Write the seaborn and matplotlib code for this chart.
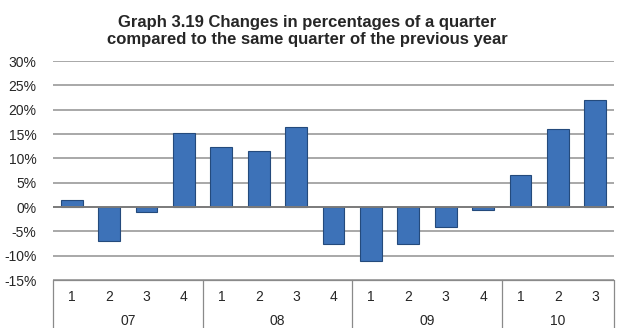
import matplotlib
matplotlib.use("Agg")
import matplotlib.pyplot as plt
import seaborn as sns
import pandas as pd
import numpy as np

years = ["07", "08", "09", "10"]
quarters = ["1", "2", "3", "4", "1", "2", "3", "4", "1", "2", "3", "4", "1", "2", "3"]
year_of_bar = ["07"] * 4 + ["08"] * 4 + ["09"] * 4 + ["10"] * 3
values = [1.5, -7.0, -1.1, 15.3, 12.4, 11.5, 16.5, -7.5, -11.0, -7.5, -4.1, -0.7, 6.5, 16.0, 22.0]
yticks = [-15, -10, -5, 0, 5, 10, 15, 20, 25, 30]

sns.set_theme(style="white")
plt.rcParams['font.family'] = ['Liberation Sans', 'DejaVu Sans']

df = pd.DataFrame({"pos": [str(i) for i in range(len(values))], "value": values})

fig = plt.figure(figsize=(6.24, 3.28), dpi=100)
ax = fig.add_axes([0.085, 0.146, 0.899, 0.668])

for t in yticks:
    if t == 0:
        continue
    ax.axhline(t, color="#9a9a9a", lw=1.2, zorder=0)

sns.barplot(data=df, x="pos", y="value", ax=ax, color="#3d72b8", width=0.58,
            edgecolor="#244a7c", linewidth=0.8, saturation=1, zorder=2)
ax.axhline(0, color="#7a7a7a", lw=1.4, zorder=3)

ax.set_ylim(-15, 30)
ax.set_xlim(-0.5, len(values) - 0.5)
ax.set_yticks(yticks)
ax.set_yticklabels([f"{t}%" for t in yticks], fontsize=10)
ax.tick_params(axis="y", length=0, pad=12)
ax.set_xticks([])
ax.set_xlabel("")
ax.set_ylabel("")
for s in ["left", "right", "top", "bottom"]:
    ax.spines[s].set_visible(False)

# category box
trans = ax.get_xaxis_transform()
box_bottom = -0.22
line_kw = dict(color="#8a8a8a", lw=0.9, clip_on=False, transform=trans)
ax.plot([-0.5, len(values) - 0.5], [0, 0], **line_kw)
for i, q in enumerate(quarters):
    ax.text(i, -0.075, q, ha="center", va="center", fontsize=10, transform=trans)
start = 0
bounds = [-0.5]
for y in years:
    n = year_of_bar.count(y)
    ax.text(start + (n - 1) / 2, -0.185, y, ha="center", va="center", fontsize=10, transform=trans)
    start += n
    bounds.append(start - 0.5)
for b in bounds:
    ax.plot([b, b], [0, box_bottom], **line_kw)

fig.text(0.492, 0.905, "Graph 3.19 Changes in percentages of a quarter\ncompared to the same quarter of the previous year",
         ha="center", va="center", fontsize=12, fontweight="bold", linespacing=1.2)

fig.savefig("out.png", dpi=100)
